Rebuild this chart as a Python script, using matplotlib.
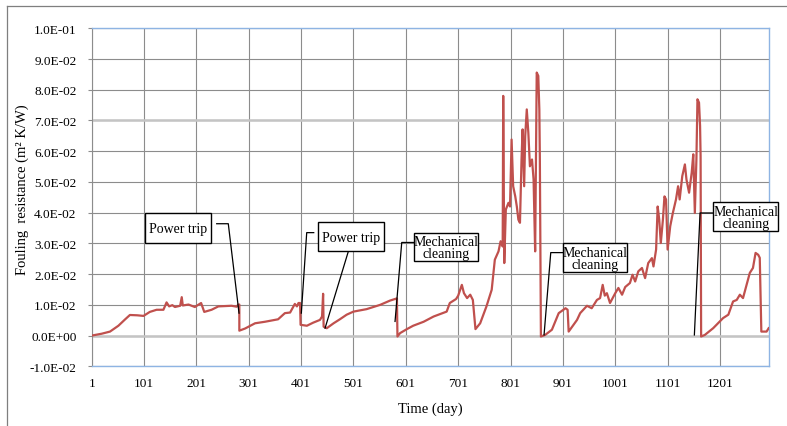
import numpy as np
import matplotlib.pyplot as plt
from matplotlib.lines import Line2D
from matplotlib.patches import Rectangle

plt.rcParams['font.family'] = ['Liberation Serif', 'DejaVu Serif']

################################################################################
# Data: fouling resistance of the exchanger against operating day

day = [1, 20, 36, 52, 65, 74, 88, 100, 112, 125, 138, 144, 149, 155, 160, 170, 173, 175,
	186, 198, 210, 216, 230, 243, 268, 278, 281, 283, 283, 294, 313, 332, 357, 370, 380,
	389, 393, 396, 399, 400, 412, 424, 437, 441, 443, 444, 450, 463, 475, 488, 501, 526,
	552, 571, 584, 585, 590, 603, 615, 635, 654, 679, 685, 697, 701, 708, 712, 718, 724,
	729, 734, 743, 755, 765, 771, 778, 782, 786, 787, 789, 792, 797, 800, 803, 806, 810,
	813, 816, 819, 822, 824, 827, 829, 832, 835, 838, 842, 845, 848, 851, 854, 856, 857,
	859, 867, 880, 893, 906, 910, 912, 928, 934, 947, 956, 966, 972, 977, 981, 985, 991,
	1001, 1007, 1014, 1020, 1029, 1034, 1039, 1045, 1052, 1058, 1064, 1071, 1074, 1079,
	1082, 1085, 1088, 1092, 1095, 1098, 1101, 1106, 1111, 1117, 1121, 1124, 1129, 1134,
	1137, 1142, 1147, 1150, 1153, 1156, 1158, 1161, 1163, 1164, 1165, 1172, 1188, 1207,
	1217, 1226, 1233, 1239, 1245, 1251, 1258, 1264, 1269, 1274, 1277, 1280, 1290, 1294]

rf = [0.0000, 0.0006, 0.0013, 0.0032, 0.0053, 0.0067, 0.0066, 0.0064, 0.0077, 0.0084,
	0.0084, 0.0108, 0.0095, 0.0099, 0.0093, 0.0097, 0.0125, 0.0098, 0.0101, 0.0093, 0.0106,
	0.0077, 0.0084, 0.0095, 0.0097, 0.0094, 0.0101, 0.0101, 0.0016, 0.0023, 0.0040, 0.0045,
	0.0053, 0.0073, 0.0075, 0.0103, 0.0095, 0.0106, 0.0106, 0.0035, 0.0032, 0.0042, 0.0051,
	0.0062, 0.0136, 0.0029, 0.0024, 0.0040, 0.0053, 0.0068, 0.0078, 0.0086, 0.0100, 0.0114,
	0.0121, -0.0003, 0.0008, 0.0021, 0.0032, 0.0045, 0.0062, 0.0078, 0.0106, 0.0119, 0.0130,
	0.0165, 0.0138, 0.0122, 0.0133, 0.0116, 0.0021, 0.0040, 0.0095, 0.0149, 0.0247, 0.0274,
	0.0307, 0.0290, 0.0780, 0.0236, 0.0410, 0.0432, 0.0420, 0.0638, 0.0486, 0.0453, 0.0420,
	0.0377, 0.0367, 0.0573, 0.0671, 0.0486, 0.0649, 0.0736, 0.0660, 0.0551, 0.0573, 0.0508,
	0.0274, 0.0856, 0.0845, 0.0736, 0.0573, -0.0003, 0.0002, 0.0019, 0.0073, 0.0089, 0.0084,
	0.0013, 0.0051, 0.0073, 0.0097, 0.0089, 0.0116, 0.0122, 0.0165, 0.0130, 0.0138, 0.0106,
	0.0138, 0.0155, 0.0133, 0.0158, 0.0171, 0.0198, 0.0176, 0.0209, 0.0220, 0.0187, 0.0236,
	0.0252, 0.0225, 0.0280, 0.0420, 0.0377, 0.0301, 0.0377, 0.0453, 0.0443, 0.0280, 0.0356,
	0.0399, 0.0443, 0.0486, 0.0443, 0.0519, 0.0557, 0.0508, 0.0465, 0.0530, 0.0590, 0.0399,
	0.0573, 0.0769, 0.0758, 0.0682, 0.0584, -0.0003, 0.0002, 0.0024, 0.0057, 0.0068, 0.0111,
	0.0116, 0.0133, 0.0122, 0.0160, 0.0204, 0.0220, 0.0269, 0.0263, 0.0253, 0.0013, 0.0013,
	0.0024]

xTicks = [1, 101, 201, 301, 401, 501, 601, 701, 801, 901, 1001, 1101, 1201]
yTicks = [-0.01, 0.0, 0.01, 0.02, 0.03, 0.04, 0.05, 0.06, 0.07, 0.08, 0.09, 0.10]

# Callout boxes: text, centre (day, Rf), size (days, Rf)
boxText = ['Power trip', 'Power trip', 'Mechanical\ncleaning', 'Mechanical\ncleaning',
	'Mechanical\ncleaning']
boxDay = [165.6, 496.7, 678.2, 963.0, 1250.0]
boxRf = [0.0350, 0.0322, 0.0289, 0.0254, 0.0387]
boxW = [125.0, 125.0, 123.0, 122.0, 123.0]
boxH = [0.0098, 0.0096, 0.0090, 0.0095, 0.0096]

# Leader lines from the boxes to the events
leaderDay = [[239.8, 261.9, 282.4], [425.1, 411.7, 401.4], [491.2, 446.7],
	[616.7, 593.2, 580.4], [901.9, 877.8, 865.0], [1188.4, 1163.0, 1152.1]]
leaderRf = [[0.0364, 0.0364, 0.0073], [0.0335, 0.0335, 0.0073], [0.0274, 0.0024],
	[0.0303, 0.0303, 0.0046], [0.0270, 0.0270, 0.0002], [0.0399, 0.0399, 0.0002]]

################################################################################
# Plot

fig = plt.figure(figsize=(7.87, 4.27), dpi=100)
ax = fig.add_axes([0.1165, 0.1398, 0.8602, 0.7916])

gridCol = '#8c8c8c'
edgeCol = '#8eb4e3'

ax.plot(day, rf, color='#c0504d', lw=1.6, zorder=3)

ax.set_xlim(1, 1294)
ax.set_ylim(-0.01, 0.10)
ax.set_xticks(xTicks)
ax.set_yticks(yTicks)
ax.set_yticklabels(['%.1E' % v if v != 0 else '0.0E+00' for v in yTicks])
ax.tick_params(axis='y', length=3, width=0.8, color=gridCol, labelsize=9.5, pad=8)
ax.tick_params(axis='x', length=0, labelsize=9.5, pad=8)
ax.grid(True, color=gridCol, lw=0.8)
ax.set_axisbelow(True)
for v in [0.0, 0.07]:
	ax.axhline(v, color='#c4c4c4', lw=1.8, zorder=1)

for side in ['top', 'bottom', 'right']:
	ax.spines[side].set_color(edgeCol)
	ax.spines[side].set_linewidth(1.0)
ax.spines['left'].set_color(gridCol)
ax.spines['left'].set_linewidth(0.8)

ax.set_xlabel('Time (day)', fontsize=10.5, labelpad=9)
fig.text(22/787, 1-190/427, 'Fouling  resistance (m\u00b2 K/W)', rotation=90,
	ha='center', va='center', fontsize=10.5)

for xs, ys in zip(leaderDay, leaderRf):
	ax.plot(xs, ys, color='black', lw=0.9, clip_on=False, zorder=4)

for t, x, y, w, h in zip(boxText, boxDay, boxRf, boxW, boxH):
	ax.add_patch(Rectangle((x - w/2, y - h/2), w, h, fc='white', ec='black', lw=1.0,
		zorder=5, clip_on=False))
	ax.text(x, y - 0.0003, t, ha='center', va='center', fontsize=10, linespacing=0.9,
		zorder=6, clip_on=False)

# Chart area frame
fig.add_artist(Line2D([6.7/787, 6.7/787], [0, 1-7/427], color='#7f7f7f', lw=0.9))
fig.add_artist(Line2D([6.7/787, 1], [1-7/427, 1-7/427], color='#7f7f7f', lw=0.9))

plt.savefig('out.png', dpi=100)
